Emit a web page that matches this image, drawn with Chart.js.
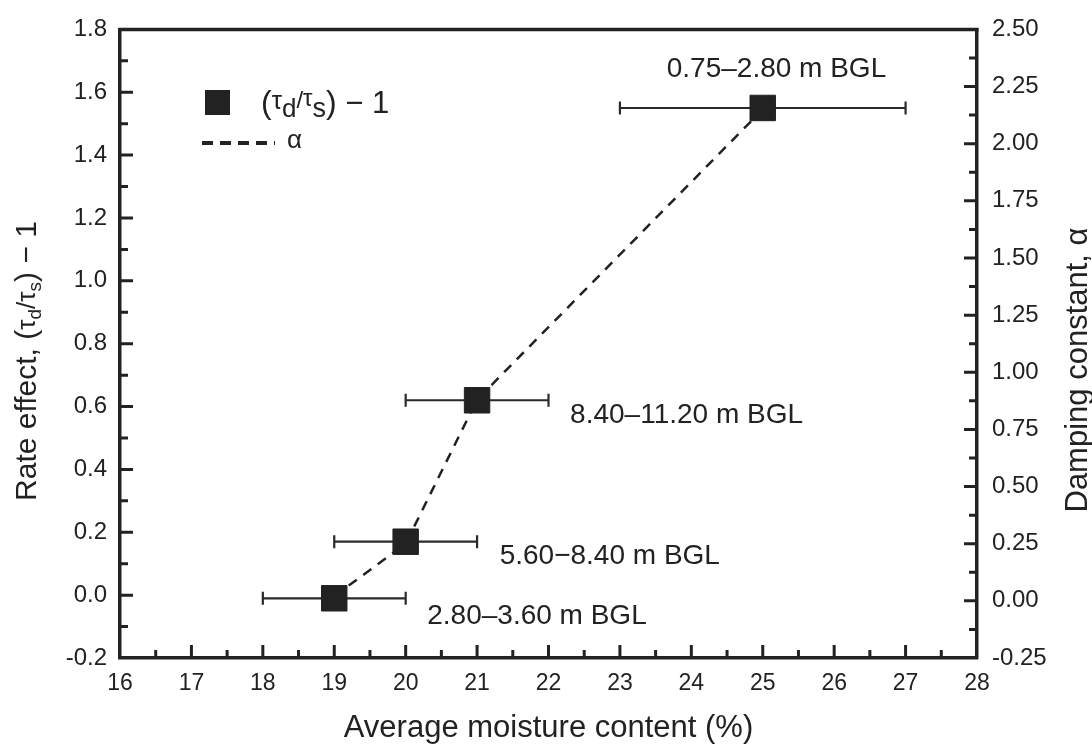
<!DOCTYPE html>
<html>
<head>
<meta charset="utf-8">
<script src="https://cdn.jsdelivr.net/npm/chart.js@4.4.1/dist/chart.umd.min.js"></script>
<style>
  html, body { margin: 0; padding: 0; background: #fff; }
  #wrap { width: 1092px; height: 744px; }
</style>
</head>
<body>
<div id="wrap"><canvas id="c" width="1092" height="744"></canvas></div>
<script>
// data
const moisture = [19, 20, 21, 25];
const moistureErr = [1, 1, 1, 2];
const rateEffect = [-0.01, 0.17, 0.62, 1.55];
const alphaVals = [0.02, 0.25, 0.88, 2.15];
const depthLabels = ['2.80\u20133.60 m BGL', '5.60\u22128.40 m BGL', '8.40\u201311.20 m BGL', '0.75\u20132.80 m BGL'];

const xTicks = [16, 17, 18, 19, 20, 21, 22, 23, 24, 25, 26, 27, 28];
const leftTicks = [-0.2, 0.0, 0.2, 0.4, 0.6, 0.8, 1.0, 1.2, 1.4, 1.6, 1.8];
const rightTicks = [-0.25, 0.00, 0.25, 0.50, 0.75, 1.00, 1.25, 1.50, 1.75, 2.00, 2.25, 2.50];

// layout bits (pixels)
const labelOffsets = [[93, 18], [94, 15], [93, 15], [-96, -39]];
const ink = '#222';
const fam = "'Liberation Sans', Arial, sans-serif";

function richText(ctx, parts, x, y, align) {
  let w = 0;
  parts.forEach(p => { ctx.font = p.size + 'px ' + fam; p.w = ctx.measureText(p.t).width; w += p.w; });
  let cx = align === 'center' ? x - w / 2 : x;
  parts.forEach(p => {
    ctx.font = p.size + 'px ' + fam;
    ctx.fillText(p.t, cx, y + (p.dy || 0));
    cx += p.w;
  });
}

function mids(arr) {
  const out = [];
  for (let i = 0; i < arr.length - 1; i++) out.push((arr[i] + arr[i + 1]) / 2);
  return out;
}

const decor = {
  id: 'decor',
  beforeDatasetsDraw(chart) {
    // horizontal error bars
    const { ctx } = chart;
    const xs = chart.scales.x, ys = chart.scales.y;
    ctx.save();
    ctx.strokeStyle = '#2a2a2a';
    ctx.lineWidth = 2.2;
    moisture.forEach((m, i) => {
      const y = ys.getPixelForValue(rateEffect[i]);
      const x0 = xs.getPixelForValue(m - moistureErr[i]);
      const x1 = xs.getPixelForValue(m + moistureErr[i]);
      ctx.beginPath();
      ctx.moveTo(x0, y); ctx.lineTo(x1, y);
      ctx.moveTo(x0, y - 6.5); ctx.lineTo(x0, y + 6.5);
      ctx.moveTo(x1, y - 6.5); ctx.lineTo(x1, y + 6.5);
      ctx.stroke();
    });
    ctx.restore();
  },
  afterDraw(chart) {
    const { ctx, chartArea: a } = chart;
    const xs = chart.scales.x, ys = chart.scales.y, y2 = chart.scales.y2;
    ctx.save();
    ctx.strokeStyle = ink;
    ctx.fillStyle = ink;

    // top frame line
    ctx.lineWidth = 3.5;
    ctx.beginPath();
    ctx.moveTo(a.left - 1.5, a.top); ctx.lineTo(a.right + 1.5, a.top);
    ctx.stroke();

    // inward ticks
    ctx.lineWidth = 3;
    ctx.beginPath();
    const tick = (x0, y0, x1, y1) => { ctx.moveTo(x0, y0); ctx.lineTo(x1, y1); };
    xTicks.slice(1, -1).forEach(v => { const x = xs.getPixelForValue(v); tick(x, a.bottom, x, a.bottom - 13); });
    mids(xTicks).forEach(v => { const x = xs.getPixelForValue(v); tick(x, a.bottom, x, a.bottom - 8); });
    leftTicks.slice(1, -1).forEach(v => { const y = ys.getPixelForValue(v); tick(a.left, y, a.left + 13, y); });
    mids(leftTicks).forEach(v => { const y = ys.getPixelForValue(v); tick(a.left, y, a.left + 8, y); });
    rightTicks.slice(1, -1).forEach(v => { const y = y2.getPixelForValue(v); tick(a.right, y, a.right - 13, y); });
    mids(rightTicks).forEach(v => { const y = y2.getPixelForValue(v); tick(a.right, y, a.right - 8, y); });
    ctx.stroke();

    // depth labels next to each point
    ctx.textBaseline = 'middle';
    ctx.textAlign = 'left';
    ctx.font = '28px ' + fam;
    depthLabels.forEach((t, i) => {
      const px = xs.getPixelForValue(moisture[i]);
      const py = ys.getPixelForValue(rateEffect[i]);
      ctx.fillText(t, px + labelOffsets[i][0], py + labelOffsets[i][1]);
    });

    // legend
    ctx.fillRect(205, 90, 25, 25);
    richText(ctx, [
      { t: '(', size: 32 },
      { t: '\u03c4', size: 26, dy: -2 },
      { t: 'd', size: 26, dy: 6 },
      { t: '/', size: 24, dy: -3 },
      { t: '\u03c4', size: 24, dy: -5 },
      { t: 's', size: 27, dy: 6 },
      { t: ')', size: 32 },
      { t: ' \u2212 1', size: 31 }
    ], 261, 104, 'left');
    ctx.lineWidth = 4;
    ctx.setLineDash([11, 7]);
    ctx.beginPath();
    ctx.moveTo(202, 143); ctx.lineTo(275, 143);
    ctx.stroke();
    ctx.setLineDash([]);
    ctx.font = '26px ' + fam;
    ctx.fillText('\u03b1', 287, 141);

    // left axis title
    ctx.save();
    ctx.translate(28, 361);
    ctx.rotate(-Math.PI / 2);
    richText(ctx, [
      { t: 'Rate effect, (', size: 30 },
      { t: '\u03c4', size: 26 },
      { t: 'd', size: 19, dy: 8 },
      { t: '/', size: 26 },
      { t: '\u03c4', size: 26 },
      { t: 's', size: 19, dy: 8 },
      { t: ') \u2212 1', size: 30 }
    ], 0, 0, 'center');
    ctx.restore();

    // right axis title
    ctx.save();
    ctx.translate(1078, 370);
    ctx.rotate(-Math.PI / 2);
    ctx.textAlign = 'center';
    ctx.font = '31px ' + fam;
    ctx.fillText('Damping constant, \u03b1', 0, 0);
    ctx.restore();

    ctx.restore();
  }
};

new Chart(document.getElementById('c'), {
  type: 'scatter',
  data: {
    datasets: [
      {
        label: '\u03b1',
        data: moisture.map((m, i) => ({ x: m, y: alphaVals[i] })),
        yAxisID: 'y2',
        showLine: true,
        borderColor: ink,
        borderWidth: 2.5,
        borderDash: [10, 8],
        pointRadius: 0,
        order: 2,
      },
      {
        label: '(\u03c4d/\u03c4s) \u2212 1',
        data: moisture.map((m, i) => ({ x: m, y: rateEffect[i] })),
        yAxisID: 'y',
        pointStyle: 'rect',
        pointRadius: 18,
        backgroundColor: ink,
        borderColor: ink,
        borderWidth: 1,
        order: 1,
      },
    ],
  },
  options: {
    responsive: false,
    animation: false,
    layout: { padding: { top: 27, left: 0, right: 0, bottom: 0 } },
    plugins: { legend: { display: false }, tooltip: { enabled: false } },
    scales: {
      x: {
        type: 'linear', position: 'bottom', min: 16, max: 28,
        afterBuildTicks: s => { s.ticks = xTicks.map(v => ({ value: v })); },
        afterFit: s => { s.height = 86; },
        grid: { display: false, drawTicks: false },
        border: { display: true, width: 3.5, color: ink },
        ticks: { color: ink, font: { family: fam, size: 23 }, padding: 12, maxRotation: 0, callback: v => String(v) },
        title: { display: true, text: 'Average moisture content (%)', color: ink, font: { family: fam, size: 31, lineHeight: 1.0 }, padding: { top: 0, bottom: 0 } },
      },
      y: {
        type: 'linear', position: 'left', min: -0.2, max: 1.8,
        afterBuildTicks: s => { s.ticks = leftTicks.map(v => ({ value: v })); },
        afterFit: s => { s.width = 120; },
        grid: { display: false, drawTicks: false },
        border: { display: true, width: 3.5, color: ink },
        ticks: { color: ink, font: { family: fam, size: 24 }, padding: 13, callback: v => v.toFixed(1) },
      },
      y2: {
        type: 'linear', position: 'right', min: -0.25, max: 2.5,
        afterBuildTicks: s => { s.ticks = rightTicks.map(v => ({ value: v })); },
        afterFit: s => { s.width = 115; },
        grid: { display: false, drawTicks: false },
        border: { display: true, width: 3.5, color: ink },
        ticks: { color: ink, font: { family: fam, size: 24 }, padding: 15, callback: v => v.toFixed(2) },
      },
    },
  },
  plugins: [decor],
});
</script>
</body>
</html>
